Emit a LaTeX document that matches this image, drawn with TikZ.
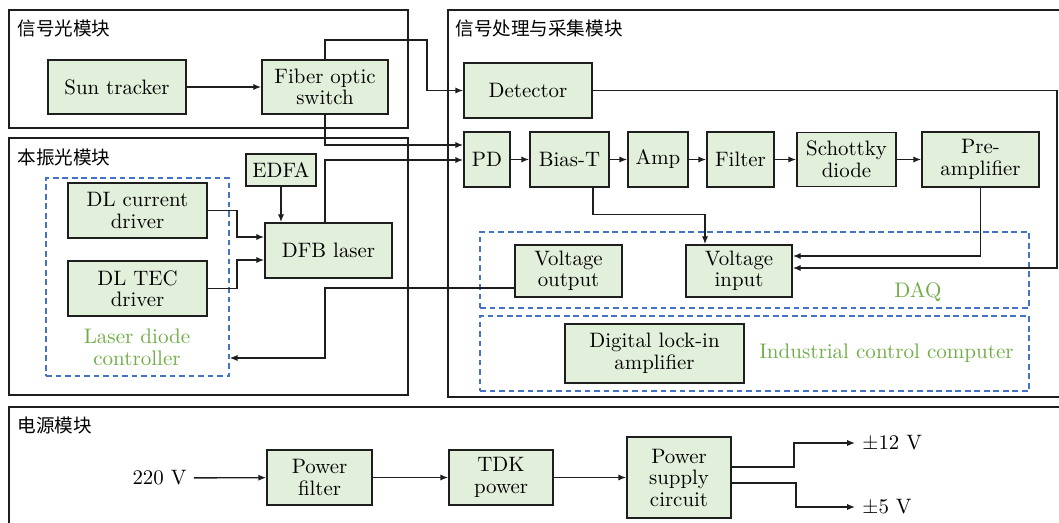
\documentclass[tikz,border=0pt]{standalone}
\usepackage{fontspec}
\newfontfamily\cjk{Noto Sans CJK SC}
\usetikzlibrary{arrows.meta,calc}
\definecolor{boxgreen}{RGB}{226,239,218}
\definecolor{dashblue}{RGB}{68,114,196}
\definecolor{lblgreen}{RGB}{112,173,71}
\definecolor{edgecol}{RGB}{30,30,30}
\begin{document}
\begin{tikzpicture}[x=0.484pt,y=-0.484pt,
  blk/.style={draw=edgecol,fill=boxgreen,line width=0.8pt,align=center,inner sep=0pt,font=\fontsize{10.1}{10.4}\selectfont},
  sz/.style 2 args={minimum width=#1*0.484pt,minimum height=#2*0.484pt},
  grp/.style={draw=dashblue,dash pattern=on 2.8pt off 1.8pt,line width=0.65pt,inner sep=0pt},
  modbox/.style={draw=edgecol,line width=0.65pt},
  ttl/.style={anchor=west,inner sep=0pt,font=\cjk\fontsize{9}{9}\selectfont},
  lbl/.style={text=lblgreen,align=center,inner sep=0pt,font=\fontsize{10.2}{10.4}\selectfont},
  txt/.style={inner sep=3.4pt,font=\fontsize{10.1}{10.4}\selectfont},
  arr/.style={-{Latex[length=3.8pt,width=3pt]},line width=0.65pt,draw=edgecol},
]
\useasboundingbox (0,0) rectangle (1059,522);
\clip (0,0) rectangle (1059,522);

% module frames
\draw[modbox] (9,10) rectangle (408,128);
\draw[modbox] (9,138) rectangle (408,395);
\draw[modbox] (448,10) rectangle (1100,397);
\draw[modbox] (9,407) rectangle (1100,560);
\node[ttl] (t1) at (17,28) {信号光模块};
\node[ttl] (t2) at (17,157) {本振光模块};
\node[ttl] (t3) at (455,28) {信号处理与采集模块};
\node[ttl] (t4) at (17,425) {电源模块};

% dashed groups
\node[grp,sz={183}{198}] (ldc) at (137.5,277) {};
\node[grp,sz={549}{76}] (daq) at (754.5,270) {};
\node[grp,sz={549}{75}] (icc) at (754.5,353.5) {};
\node[lbl] (ldcl) at (137,347.5) {Laser diode\\controller};
\node[lbl] (daql) at (918,292) {DAQ};
\node[lbl] (iccl) at (886.5,353) {Industrial control computer};

% blocks
\node[blk,sz={138}{54}] (sun) at (117,87) {Sun tracker};
\node[blk,sz={126}{54}] (fos) at (325,87) {Fiber optic\\switch};
\node[blk,sz={70}{32}] (edfa) at (281,170) {EDFA};
\node[blk,sz={139}{55}] (dlc) at (137.5,210.5) {DL current\\driver};
\node[blk,sz={139}{55}] (dlt) at (137.5,288.5) {DL TEC\\driver};
\node[blk,sz={127}{55}] (dfb) at (328.5,250.5) {DFB laser};
\node[blk,sz={128}{55}] (det) at (528,90.5) {Detector};
\node[blk,sz={46}{55}] (pd) at (487,159.5) {PD};
\node[blk,sz={79}{55}] (biast) at (569.5,159.5) {Bias-T};
\node[blk,sz={60}{55}] (amp) at (658,159.5) {Amp};
\node[blk,sz={67}{55}] (filt) at (740.5,159.5) {Filter};
\node[blk,sz={99}{54}] (sch) at (846.5,159.5) {Schottky\\diode};
\node[blk,sz={117}{55}] (pre) at (980.5,159.5) {Pre-\\amplifier};
\node[blk,sz={107}{52}] (vout) at (568.5,271) {Voltage\\output};
\node[blk,sz={106}{52}] (vin) at (739,271) {Voltage\\input};
\node[blk,sz={179}{59}] (dlia) at (654.5,353.5) {Digital lock-in\\amplifier};
\node[blk,sz={105}{55}] (pf) at (319.5,477.5) {Power\\filter};
\node[blk,sz={104}{55}] (tdk) at (501,477.5) {TDK\\power};
\node[blk,sz={104}{81}] (psc) at (679,477.5) {Power\\supply\\circuit};
\node[txt] (v220) at (159.5,478) {220 V};
\node[txt,anchor=west] (p12) at (855,443) {$\pm$12 V};
\node[txt,anchor=west] (p5) at (855,507) {$\pm$5 V};

% helper coordinates
\coordinate (w1) at (427,40);
\coordinate (w2) at (325,358);
\coordinate (w3) at (1057,268);

% connectors
\draw[arr] (sun) -- (fos);
\draw[arr] (fos.north) |- (w1) |- (det.west);
\draw[arr] (fos.south) |- ($(pd.west)+(0,-14.5)$);
\draw[arr] (fos.south |- dfb.north) |- ($(pd.west)+(0,0.5)$);
\draw[arr] (edfa) -- (edfa |- dfb.north);
\draw[arr] (dlc.east) -- ++(29,0) |- ($(dfb.west)+(0,-13.5)$);
\draw[arr] (dlt.east) -- ++(29,0) |- ($(dfb.west)+(0,9.5)$);
\draw[arr] ($(vout.west)+(0,17)$) -| (w2) -- (w2 -| ldc.east);
\draw[arr] (pd) -- (biast);
\draw[arr] (biast) -- (amp);
\draw[arr] (amp) -- (filt);
\draw[arr] (filt) -- (sch);
\draw[arr] (sch) -- (pre);
\draw[arr] ($(biast.south)+(23.5,0)$) |- ($(vin.north)+(-34,-30)$) -- ($(vin.north)+(-34,0)$);
\draw[arr] (pre.south) |- ($(vin.east)+(0,-15)$);
\draw[arr] (det.east) -| (w3) -- ($(vin.east)+(0,-3)$);
\draw[arr] (v220) -- (pf);
\draw[arr] (pf) -- (tdk);
\draw[arr] (tdk) -- (psc);
\draw[arr] ($(psc.east)+(0,-10.5)$) -- ++(62,0) |- (p12.west);
\draw[arr] ($(psc.east)+(0,5.5)$) -- ++(64,0) |- (p5.west);
\end{tikzpicture}
\end{document}
